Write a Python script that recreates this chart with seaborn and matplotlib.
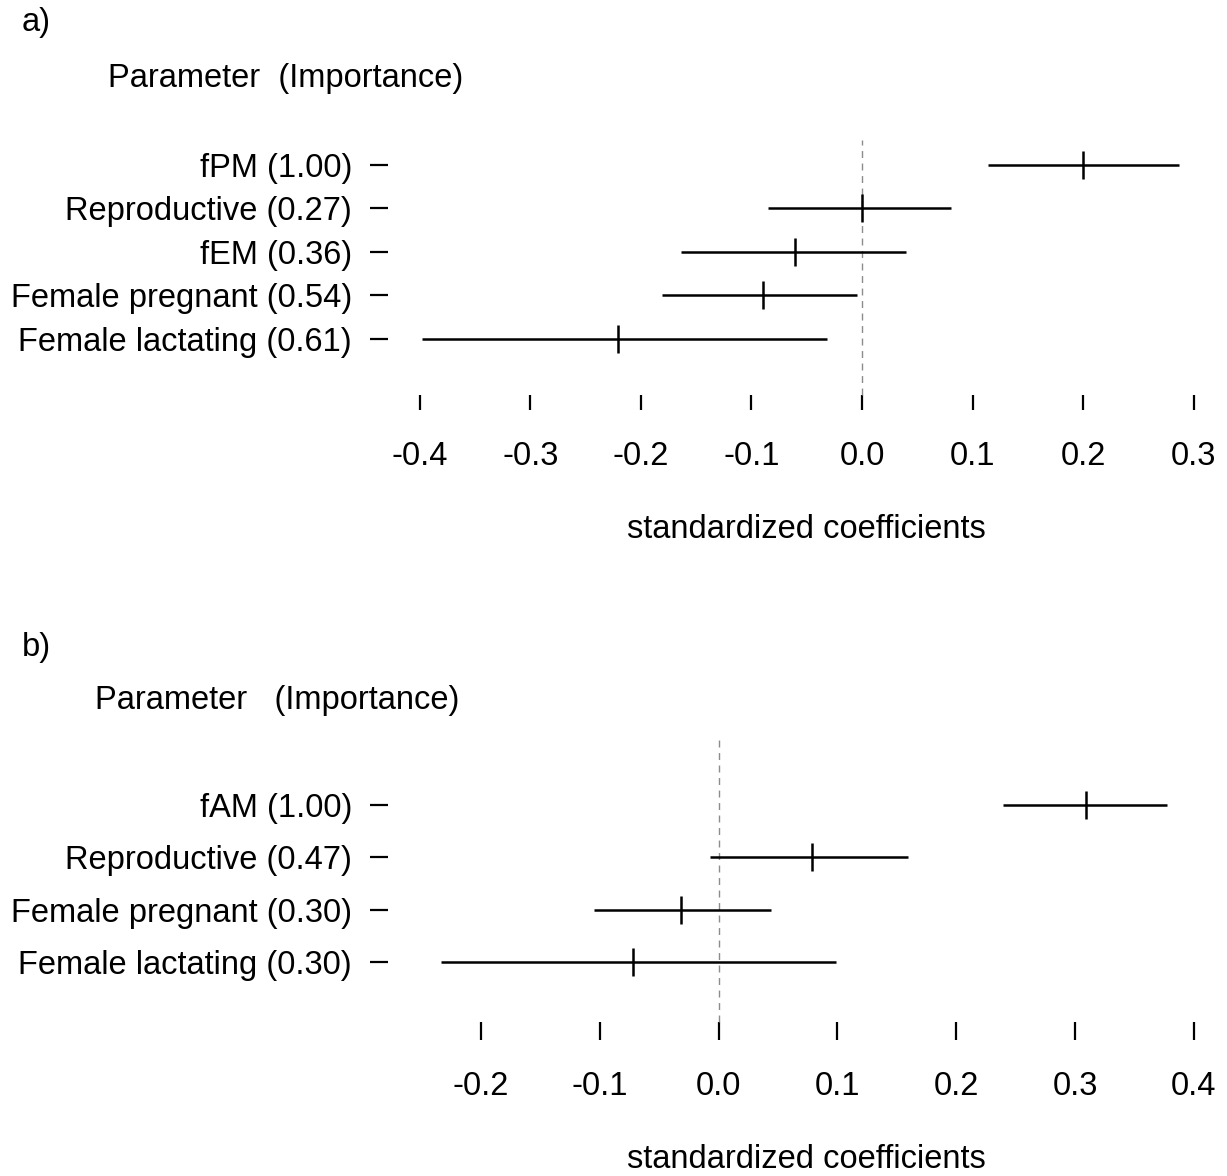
import matplotlib
matplotlib.use("Agg")
import matplotlib.pyplot as plt
import seaborn as sns
import pandas as pd

# Panel a data
a_labels = ["fPM (1.00)", "Reproductive (0.27)", "fEM (0.36)",
            "Female pregnant (0.54)", "Female lactating (0.61)"]
a_est = [0.200, 0.000, -0.061, -0.090, -0.221]
a_lo = [0.114, -0.085, -0.164, -0.181, -0.398]
a_hi = [0.287, 0.080, 0.040, -0.005, -0.032]
a_ticks = [-0.4, -0.3, -0.2, -0.1, 0.0, 0.1, 0.2, 0.3]

# Panel b data
b_labels = ["fAM (1.00)", "Reproductive (0.47)",
            "Female pregnant (0.30)", "Female lactating (0.30)"]
b_est = [0.309, 0.079, -0.032, -0.072]
b_lo = [0.239, -0.007, -0.105, -0.234]
b_hi = [0.377, 0.159, 0.044, 0.099]
b_ticks = [-0.2, -0.1, 0.0, 0.1, 0.2, 0.3, 0.4]

sns.set_theme(style="white")
plt.rcParams['font.family'] = ['Liberation Sans', 'DejaVu Sans']
plt.rcParams['text.color'] = 'black'
plt.rcParams['axes.labelcolor'] = 'black'
plt.rcParams['xtick.color'] = 'black'
plt.rcParams['ytick.color'] = 'black'
FS = 23.5

W, H = 1227, 1176
fig = plt.figure(figsize=(W / 100, H / 100), dpi=100)


def px_axes(left, top, right, bottom):
    return fig.add_axes([left / W, 1 - bottom / H, (right - left) / W, (bottom - top) / H])


def panel(ax, labels, est, lo, hi, ticks, xlim, ylim, xtick_len):
    df = pd.DataFrame({"row": list(range(len(labels))), "est": est, "lo": lo, "hi": hi})
    ax.axvline(0, ymin=0, ymax=1, color="#8c8c8c", lw=1.0, ls=(0, (5, 4)), zorder=1,
               clip_on=False)
    ax.hlines(df["row"], df["lo"], df["hi"], color="black", lw=1.8, zorder=2)
    sns.scatterplot(data=df, x="est", y="row", marker="|", s=420, color="black",
                    linewidth=1.8, ax=ax, zorder=3, legend=False)
    ax.set_xlim(*xlim)
    ax.set_ylim(*ylim)
    for s in ax.spines.values():
        s.set_visible(False)
    ax.set_yticks(range(len(labels)))
    ax.set_yticklabels(labels, fontsize=FS)
    ax.set_xticks(ticks)
    ax.set_xticklabels([f"{t:.1f}" for t in ticks], fontsize=FS)
    ax.tick_params(axis="y", left=True, length=13, width=1.6, pad=13, direction="out", color="black")
    ax.tick_params(axis="x", bottom=True, length=xtick_len, width=1.6, pad=22, direction="out", color="black")
    ax.set_xlabel("")
    ax.set_ylabel("")
    ax.grid(False)


ax1 = px_axes(388, 140, 1210, 395)
panel(ax1, a_labels, a_est, a_lo, a_hi, a_ticks, (-0.4286, 0.3146), (5.29, -0.575), 11)
ax2 = px_axes(388, 738, 1210, 1022)
panel(ax2, b_labels, b_est, b_lo, b_hi, b_ticks, (-0.2783, 0.4136), (4.15, -1.28), 13)

fig.text(22 / W, 1 - 22 / H, "a)", fontsize=FS, ha="left", va="center")
fig.text(108 / W, 1 - 78 / H, "Parameter  (Importance)", fontsize=FS, ha="left", va="center")
fig.text(806 / W, 1 - 530 / H, "standardized coefficients", fontsize=FS, ha="center", va="center")
fig.text(22 / W, 1 - 648 / H, "b)", fontsize=FS, ha="left", va="center")
fig.text(95 / W, 1 - 700 / H, "Parameter   (Importance)", fontsize=FS, ha="left", va="center")
fig.text(806 / W, 1 - 1160 / H, "standardized coefficients", fontsize=FS, ha="center", va="center")

fig.savefig("out.png", dpi=100, facecolor="white")
